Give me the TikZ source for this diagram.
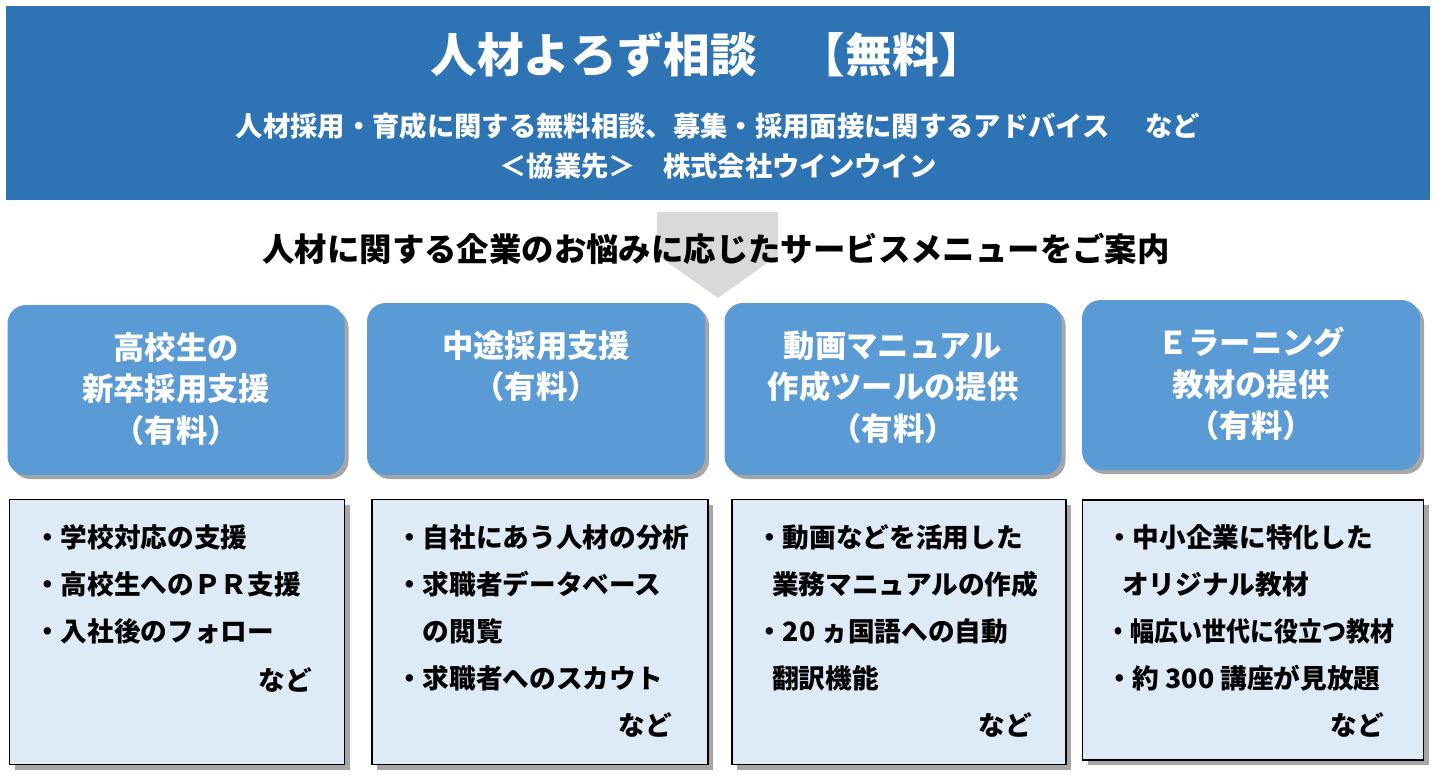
\documentclass[tikz,border=0pt]{standalone}
\usepackage{fontspec}
\setmainfont{Noto Sans CJK JP}
\usetikzlibrary{shadows}
\definecolor{banner}{HTML}{2E74B5}
\definecolor{head}{HTML}{5B9BD5}
\definecolor{pale}{HTML}{DEEBF7}
\definecolor{arrowgray}{HTML}{D9D9D9}
\tikzset{
 headbox/.style={fill=head,rounded corners=14pt,drop shadow={shadow xshift=3pt,shadow yshift=-3pt,fill=black!35,opacity=1}},
 bodybox/.style={fill=pale,draw=black,line width=1pt,drop shadow={shadow xshift=4pt,shadow yshift=-4pt,fill=black!35,opacity=1}},
 headtxt/.style={text=white,font=\bfseries\fontsize{23.5}{31}\selectfont,align=center},
 bodytxt/.style={anchor=north west,font=\bfseries\fontsize{20}{35.25}\selectfont,align=left,inner sep=0pt},
 natxt/.style={font=\bfseries\fontsize{20}{22}\selectfont,inner sep=0pt}
}
\begin{document}
\begin{tikzpicture}[x=0.75pt,y=-0.75pt]
\useasboundingbox (0,0) rectangle (1442,781);
\fill[white] (0,0) rectangle (1442,781);
\fill[banner] (6,6) rectangle (1430,200);
\node[text=white,font=\bfseries\fontsize{35}{40}\selectfont] (title) at (708,55) {人材よろず相談\hspace{0.9em}【無料】};
\node[text=white,font=\bfseries\fontsize{20.5}{30}\selectfont,align=center] (sub) at (718,146) {人材採用・育成に関する無料相談、募集・採用面接に関するアドバイス\hspace{1.3em}など\\＜協業先＞\hspace{1em}株式会社ウインウイン};
\fill[arrowgray] (657,212) -- (778,212) -- (778,255) -- (718,298) -- (657,255) -- cycle;
\node[font=\bfseries\fontsize{24.3}{28}\selectfont] (menu) at (716,249) {人材に関する企業のお悩みに応じたサービスメニューをご案内};
% head boxes
\node[headbox,minimum width=337*0.75pt,minimum height=170*0.75pt] (h1) at (176,390) {};
\node[headtxt] at (176,389) {高校生の\\新卒採用支援\\（有料）};
\node[headbox,minimum width=338*0.75pt,minimum height=172*0.75pt] (h2) at (536,389) {};
\node[headtxt] at (536,366) {中途採用支援\\（有料）};
\node[headbox,minimum width=337*0.75pt,minimum height=172*0.75pt] (h3) at (893,389) {};
\node[headtxt] at (893,387) {動画マニュアル\\作成ツールの提供\\（有料）};
\node[headbox,minimum width=338*0.75pt,minimum height=170*0.75pt] (h4) at (1251,385) {};
\node[headtxt] at (1251,384) {Ｅラーニング\\教材の提供\\（有料）};
% body boxes
\node[bodybox,minimum width=335*0.75pt,minimum height=265*0.75pt] (b1) at (177,632) {};
\node[bodybox,minimum width=336*0.75pt,minimum height=265*0.75pt] (b2) at (540,632) {};
\node[bodybox,minimum width=334*0.75pt,minimum height=265*0.75pt] (b3) at (899,632) {};
\node[bodybox,minimum width=341*0.75pt,minimum height=260*0.75pt] (b4) at (1253,630) {};
\node[bodytxt] (t1) at (34,524) {・学校対応の支援\\・高校生へのＰＲ支援\\・入社後のフォロー};
\node[natxt] (n1) at (285,680) {など};
\node[bodytxt] (t2) at (396,524) {・自社にあう人材の分析\\・求職者データベース\\\hspace{1em}の閲覧\\・求職者へのスカウト};
\node[natxt] (n2) at (645,725) {など};
\node[bodytxt] (t3) at (756,524) {・動画などを活用した\\\hspace{0.6em}業務マニュアルの作成\\・20 ヵ国語への自動\\\hspace{0.6em}翻訳機能};
\node[natxt] (n3) at (1005,725) {など};
\node[bodytxt] (t4) at (1106,524) {・中小企業に特化した\\\hspace{0.6em}オリジナル教材\\\scalebox{0.9}[1]{・幅広い世代に役立つ教材}\\・約 300 講座が見放題};
\node[natxt] (n4) at (1357,725) {など};
\end{tikzpicture}
\end{document}
